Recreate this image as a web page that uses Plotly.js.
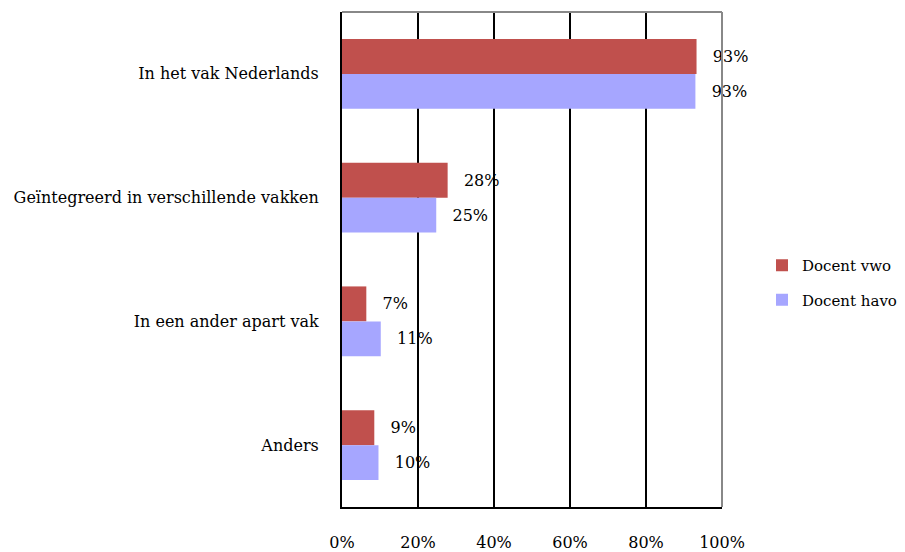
<!DOCTYPE html>
<html><head><meta charset="utf-8">
<script src="https://cdn.plot.ly/plotly-3.0.1.min.js"></script>
<style>html,body{margin:0;padding:0;background:#fff}#c{width:905px;height:552px}</style>
</head><body><div id="c"></div>
<script>
const categories = ["In het vak Nederlands", "Geïntegreerd in verschillende vakken", "In een ander apart vak", "Anders"];
const vwoValues = [93.3, 27.8, 6.4, 8.5];
const havoValues = [93.0, 24.8, 10.2, 9.6];
const vwoLabels = ["93%", "28%", "7%", "9%"];
const havoLabels = ["93%", "25%", "11%", "10%"];
const xTickVals = [0, 20, 40, 60, 80, 100];
const xTickText = ["0%", "20%", "40%", "60%", "80%", "100%"];

const FONT = "DejaVu Serif, Liberation Serif, serif";
const PAD = "\u2002\u2004";
const traces = [
  {type: "bar", orientation: "h", name: "Docent vwo", y: categories, x: vwoValues,
   marker: {color: "#C0504D"}, legendgroup: "a",
   text: vwoLabels.map(t => PAD + t), textposition: "outside", cliponaxis: false,
   textfont: {family: FONT, size: 16, color: "#000"}, hoverinfo: "none"},
  {type: "bar", orientation: "h", name: "Docent havo", y: categories, x: havoValues,
   marker: {color: "#A6A6FF"}, legendgroup: "b",
   text: havoLabels.map(t => PAD + t), textposition: "outside", cliponaxis: false,
   textfont: {family: FONT, size: 16, color: "#000"}, hoverinfo: "none"}
];
const PW = 905 - 342;
const layout = {
  width: 905, height: 552,
  margin: {l: 342, r: 0, t: 12, b: 45},
  paper_bgcolor: "#fff", plot_bgcolor: "rgba(0,0,0,0)",
  font: {family: FONT, size: 16, color: "#000"},
  barmode: "group", bargap: 0.435, bargroupgap: 0,
  showlegend: true,
  legend: {x: (762 - 342) / PW, y: 1 - (282.5 - 12) / 495, xanchor: "left", yanchor: "middle",
    traceorder: "grouped", tracegroupgap: 12, bgcolor: "rgba(0,0,0,0)",
    font: {family: FONT, size: 15, color: "#000"}, itemwidth: 30},
  xaxis: {domain: [0, 380 / PW], range: [0, 100], tickvals: xTickVals, ticktext: xTickText, showgrid: true,
    gridcolor: "#000", gridwidth: 2, zeroline: false, showline: true, linecolor: "#000",
    linewidth: 2, ticks: "", ticklabelstandoff: 20, fixedrange: true},
  yaxis: {type: "category", autorange: "reversed", showgrid: false, zeroline: false,
    showline: true, linecolor: "#000", linewidth: 2, ticks: "", ticklabelstandoff: 18},
  shapes: [
    {type: "line", xref: "x domain", yref: "y domain", x0: 0, x1: 1, y0: 1, y1: 1, line: {color: "#888", width: 2}},
    {type: "line", xref: "x domain", yref: "y domain", x0: 1, x1: 1, y0: 0, y1: 1, line: {color: "#888", width: 2}}
  ]
};
Plotly.newPlot("c", traces, layout, {displayModeBar: false, staticPlot: true});
</script></body></html>
